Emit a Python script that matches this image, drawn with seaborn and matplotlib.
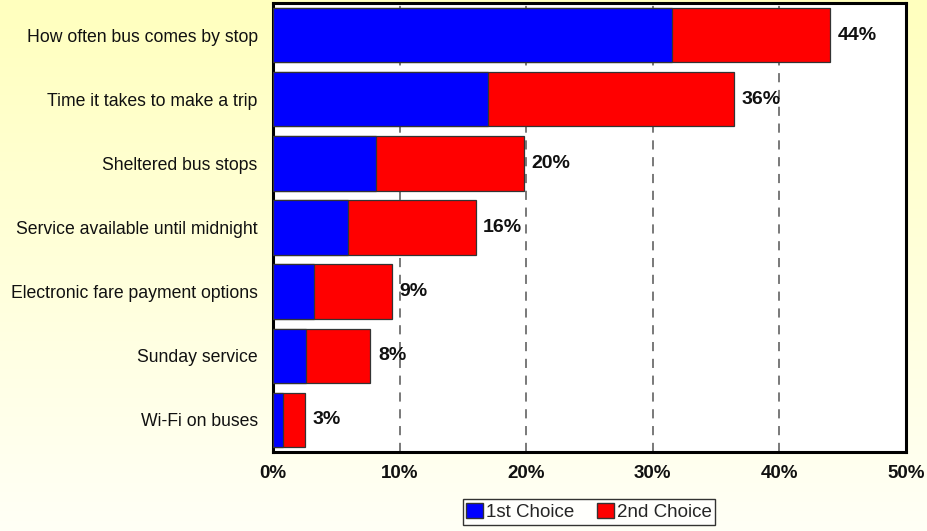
import numpy as np
import pandas as pd
import matplotlib
matplotlib.use("Agg")
import matplotlib.pyplot as plt
import seaborn as sns
from matplotlib.patches import Patch

categories = ["How often bus comes by stop", "Time it takes to make a trip",
              "Sheltered bus stops", "Service available until midnight",
              "Electronic fare payment options", "Sunday service", "Wi-Fi on buses"]
first_choice = [31.5, 17.0, 8.1, 5.9, 3.2, 2.6, 0.8]
second_choice = [12.5, 19.4, 11.7, 10.1, 6.2, 5.1, 1.7]
total_labels = ["44%", "36%", "20%", "16%", "9%", "8%", "3%"]
x_ticks = [0, 10, 20, 30, 40, 50]
x_tick_labels = ["0%", "10%", "20%", "30%", "40%", "50%"]

df = pd.DataFrame({"category": categories,
                   "first": first_choice,
                   "second": second_choice})
df["total"] = df["first"] + df["second"]

sns.set_theme(style="white")
plt.rcParams["font.family"] = ["Liberation Sans", "DejaVu Sans"]

fig = plt.figure(figsize=(9.28, 5.31), dpi=100)

# background gradient (yellow top -> near white bottom)
bg = fig.add_axes([0, 0, 1, 1], zorder=-10)
grad = np.linspace(0, 1, 256).reshape(-1, 1)
top = np.array([255, 255, 190]) / 255.0
bot = np.array([255, 255, 246]) / 255.0
img = top[None, None, :] * (1 - grad[:, :, None]) + bot[None, None, :] * grad[:, :, None]
bg.imshow(img, aspect="auto", extent=[0, 1, 0, 1])
bg.axis("off")

ax = fig.add_axes([273 / 928, 1 - 452 / 531, (906 - 273) / 928, (452 - 3) / 531])
ax.set_facecolor("white")

sns.barplot(data=df, y="category", x="total", orient="h", color="#FF0000",
            saturation=1, width=0.85, edgecolor="#333333", linewidth=0.9,
            ax=ax, zorder=3)
sns.barplot(data=df, y="category", x="first", orient="h", color="#0000FF",
            saturation=1, width=0.85, edgecolor="#333333", linewidth=0.9,
            ax=ax, zorder=4)
for p in ax.patches:
    p.set_alpha(1)
    p.set_zorder(3)

for i, (t, lab) in enumerate(zip(df["total"], total_labels)):
    ax.text(t + 0.6, i, lab, va="center", ha="left", fontsize=14,
            fontweight="bold", color="#111111", zorder=6)

ax.set_xlim(0, 50)
ax.set_ylim(6.5, -0.5)
ax.set_xticks(x_ticks)
ax.set_xticklabels(x_tick_labels, fontsize=13.5, fontweight="bold", color="#111111")
ax.tick_params(axis="y", labelsize=12.7, pad=11, length=0, colors="#111111")
ax.tick_params(axis="x", pad=9, length=0)
ax.set_xlabel("")
ax.set_ylabel("")
for xv in [10, 20, 30, 40]:
    ax.axvline(xv, color="#555555", lw=1.1, ls=(0, (6, 5)), zorder=1)
for s in ax.spines.values():
    s.set_color("black")
    s.set_linewidth(2.2)
    s.set_visible(True)

handles = [Patch(facecolor="#0000FF", edgecolor="#333333", label="1st Choice"),
           Patch(facecolor="#FF0000", edgecolor="#333333", label="2nd Choice")]
leg = fig.legend(handles=handles, loc="center", bbox_to_anchor=(589 / 928, 1 - 512 / 531),
                 ncol=2, fontsize=13.5, frameon=True, fancybox=False,
                 handlelength=0.9, handleheight=0.9, handletextpad=0.15,
                 columnspacing=1.2, borderpad=0.2, borderaxespad=0)
leg.get_frame().set_edgecolor("black")
leg.get_frame().set_linewidth(1.0)
leg.get_frame().set_facecolor("white")

fig.savefig("out.png", dpi=100)
